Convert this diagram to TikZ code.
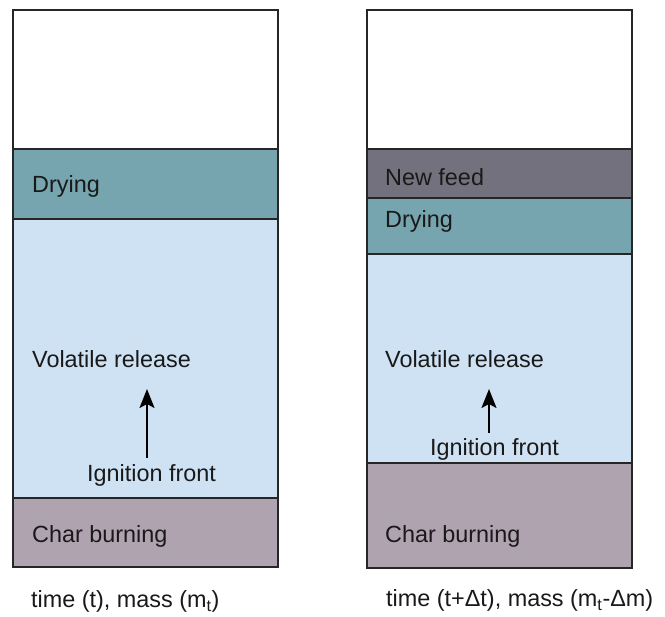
\documentclass[tikz,border=0pt]{standalone}
\usepackage{fontspec}
\setmainfont{Liberation Sans}
\usetikzlibrary{arrows.meta}
\definecolor{dryc}{HTML}{76A5AF}
\definecolor{volc}{HTML}{CFE2F3}
\definecolor{charc}{HTML}{B0A3B0}
\definecolor{feedc}{HTML}{74717E}
\begin{document}
\begin{tikzpicture}[x=1pt,y=-1pt,
  band/.style={draw=black!85,line width=1.6pt,anchor=north west,inner sep=0pt,outer sep=0pt,minimum width=265pt},
  lbl/.style={anchor=base west,inner sep=0pt,font=\fontsize{23.4}{28}\selectfont,text=black!90},
  front/.style={-{Stealth[length=19pt,width=15pt,inset=4pt]},line width=2pt}]
\useasboundingbox (0,0) rectangle (665,617);
% left column
\node[band,fill=white,minimum height=139pt] (Lw) at (13,10) {};
\node[band,fill=dryc,minimum height=70pt] (Ld) at (13,149) {};
\node[band,fill=volc,minimum height=279pt] (Lv) at (13,219) {};
\node[band,fill=charc,minimum height=69pt] (Lc) at (13,498) {};
% right column
\node[band,fill=white,minimum height=139pt] (Rw) at (367,10) {};
\node[band,fill=feedc,minimum height=49pt] (Rf) at (367,149) {};
\node[band,fill=dryc,minimum height=56pt] (Rd) at (367,198) {};
\node[band,fill=volc,minimum height=209pt] (Rv) at (367,254) {};
\node[band,fill=charc,minimum height=105pt] (Rc) at (367,463) {};
% labels left
\node[lbl] (tLd) at (32,193) {Drying};
\node[lbl] (tLv) at (32,368) {Volatile release};
\node[lbl] (tLi) at (87,482) {Ignition front};
\node[lbl] (tLc) at (32,543) {Char burning};
\node[lbl] (tLt) at (31,608) {time (t), mass (m\textsubscript{t})};
% labels right
\node[lbl] (tRf) at (385,186) {New feed};
\node[lbl] (tRd) at (385,228) {Drying};
\node[lbl] (tRv) at (385,368) {Volatile release};
\node[lbl] (tRi) at (430,456) {Ignition front};
\node[lbl] (tRc) at (385,543) {Char burning};
\node[lbl] (tRt) at (386,607) {time (t+Δt), mass (m\textsubscript{t}-Δm)};
% arrows
\coordinate (aL0) at (147,458);
\coordinate (aL1) at (147,389);
\coordinate (aR0) at (489,433);
\coordinate (aR1) at (489,389);
\draw[front] (aL0) -- (aL1);
\draw[front] (aR0) -- (aR1);
\end{tikzpicture}
\end{document}
